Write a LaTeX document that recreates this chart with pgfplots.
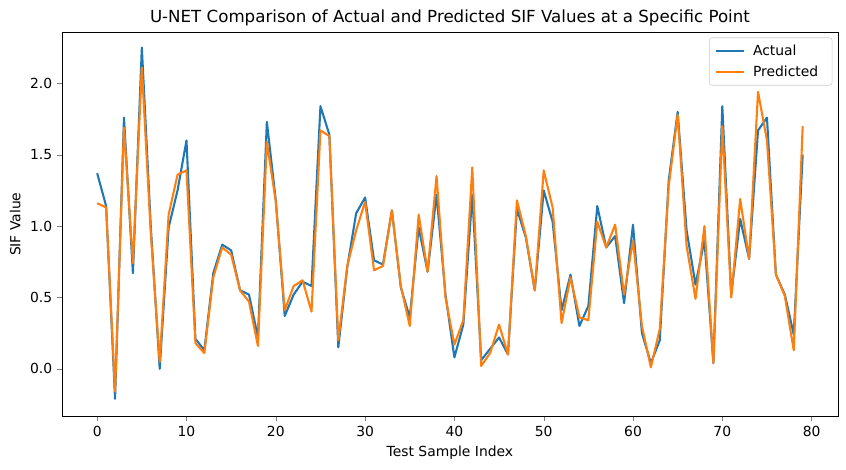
\documentclass[border=0pt]{standalone}
\usepackage{fontspec}
\setmainfont{DejaVu Sans}
\usepackage{pgfplots}
\pgfplotsset{compat=1.18}
\definecolor{tabblue}{HTML}{1F77B4}
\definecolor{taborange}{HTML}{FF7F0E}
\begin{document}
\begin{tikzpicture}
\begin{axis}[
	scale only axis,
	width=559pt, height=277pt,
	xmin=-3.95, xmax=82.95,
	ymin=-0.334, ymax=2.36,
	xtick={0,10,...,80},
	ytick={0,0.5,...,2.0},
	yticklabel style={/pgf/number format/.cd,fixed,fixed zerofill,precision=1},
	/pgf/number format/assume math mode=true,
	tick align=outside, tick pos=left,
	major tick length=3.5pt,
	ticklabel style={font=\fontsize{10}{12}\selectfont},
	label style={font=\fontsize{10}{12}\selectfont},
	xlabel={Test Sample Index},
	ylabel={SIF Value},
	title={U-NET Comparison of Actual and Predicted SIF Values at a Specific Point},
	title style={font=\fontsize{12}{14}\selectfont, yshift=-5.5pt},
	legend style={at={(1,1)}, anchor=north east, xshift=-4pt, yshift=-4pt,
		font=\fontsize{10}{12}\selectfont, draw=black!20, rounded corners=2pt,
		inner xsep=4pt, inner ysep=3pt, row sep=2pt,
		nodes={inner xsep=6pt}},
	legend cell align=left,
	legend image code/.code={\draw[#1] (0cm,0cm) -- (20pt,0cm);},
]
\addplot[tabblue, line width=1.5pt, line join=round] coordinates {
(0,1.37) (1,1.14) (2,-0.21) (3,1.76) (4,0.67) (5,2.25) (6,1.00) (7,0.00) (8,0.99) (9,1.25)
(10,1.60) (11,0.21) (12,0.13) (13,0.67) (14,0.87) (15,0.83) (16,0.55) (17,0.52) (18,0.22) (19,1.73)
(20,1.18) (21,0.37) (22,0.52) (23,0.61) (24,0.58) (25,1.84) (26,1.64) (27,0.15) (28,0.71) (29,1.09)
(30,1.20) (31,0.76) (32,0.73) (33,1.11) (34,0.57) (35,0.36) (36,0.99) (37,0.68) (38,1.22) (39,0.52)
(40,0.08) (41,0.31) (42,1.22) (43,0.06) (44,0.14) (45,0.22) (46,0.10) (47,1.12) (48,0.92) (49,0.55)
(50,1.25) (51,1.03) (52,0.41) (53,0.66) (54,0.30) (55,0.44) (56,1.14) (57,0.85) (58,0.93) (59,0.46)
(60,1.01) (61,0.25) (62,0.04) (63,0.20) (64,1.32) (65,1.80) (66,0.97) (67,0.59) (68,0.90) (69,0.04)
(70,1.84) (71,0.52) (72,1.05) (73,0.77) (74,1.67) (75,1.76) (76,0.66) (77,0.52) (78,0.24) (79,1.50)
};
\addlegendentry{Actual}
\addplot[taborange, line width=1.5pt, line join=round] coordinates {
(0,1.16) (1,1.13) (2,-0.16) (3,1.69) (4,0.74) (5,2.11) (6,0.95) (7,0.05) (8,1.08) (9,1.36)
(10,1.39) (11,0.18) (12,0.11) (13,0.64) (14,0.85) (15,0.80) (16,0.55) (17,0.47) (18,0.16) (19,1.59)
(20,1.17) (21,0.41) (22,0.58) (23,0.62) (24,0.40) (25,1.67) (26,1.63) (27,0.20) (28,0.72) (29,0.97)
(30,1.17) (31,0.69) (32,0.72) (33,1.11) (34,0.58) (35,0.30) (36,1.08) (37,0.68) (38,1.35) (39,0.50)
(40,0.17) (41,0.34) (42,1.41) (43,0.02) (44,0.11) (45,0.31) (46,0.10) (47,1.18) (48,0.93) (49,0.55)
(50,1.39) (51,1.13) (52,0.32) (53,0.64) (54,0.36) (55,0.34) (56,1.03) (57,0.85) (58,1.01) (59,0.52)
(60,0.90) (61,0.30) (62,0.01) (63,0.28) (64,1.28) (65,1.78) (66,0.86) (67,0.49) (68,1.00) (69,0.04)
(70,1.70) (71,0.50) (72,1.19) (73,0.77) (74,1.94) (75,1.60) (76,0.66) (77,0.51) (78,0.13) (79,1.70)
};
\addlegendentry{Predicted}
\end{axis}
\path (-44.6pt,-38pt) rectangle (564.8pt,300pt);
\end{tikzpicture}
\end{document}
